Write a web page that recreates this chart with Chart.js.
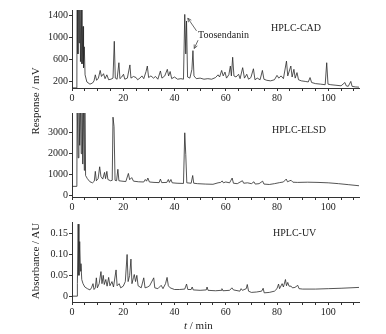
<!DOCTYPE html>
<html>
<head>
<meta charset="utf-8">
<script src="https://cdn.jsdelivr.net/npm/chart.js@4.4.0/dist/chart.umd.min.js"></script>
<style>
  body { margin: 0; background: #fff; }
  #wrap { position: relative; width: 386px; height: 334px; overflow: hidden; font-family: "Liberation Serif", serif; color: #222; }
  canvas { position: absolute; left: 0; }
  .lbl { position: absolute; font-size: 10px; line-height: 12px; white-space: nowrap; }
  .ytitle { position: absolute; font-size: 11px; white-space: nowrap; transform: translate(-50%, -50%) rotate(-90deg); }
</style>
</head>
<body>
<div id="wrap">
  <canvas id="cad" width="386" height="106" style="top:0px"></canvas>
  <canvas id="elsd" width="386" height="109" style="top:106px"></canvas>
  <canvas id="uv" width="386" height="119" style="top:215px"></canvas>
  <div class="lbl" style="left:271px; top:22px">HPLC-CAD</div>
  <div class="lbl" style="left:198px; top:29px">Toosendanin</div>
  <div class="lbl" style="left:272px; top:124px">HPLC-ELSD</div>
  <div class="lbl" style="left:273px; top:227px">HPLC-UV</div>
  <div class="ytitle" style="left:35px; top:101px">Response / mV</div>
  <div class="ytitle" style="left:35px; top:261px">Absorbance / AU</div>
  <div class="lbl" style="left:184px; top:319px; font-size:11px"><i>t</i> / min</div>
</div>
<script>
// retention time axis
const xLabels = [0, 20, 40, 60, 80, 100]
const xMinor = [0, 5, 10, 15, 20, 25, 30, 35, 40, 45, 50, 55, 60, 65, 70, 75, 80, 85, 90, 95, 100, 105, 110]

// HPLC-CAD trace (min, mV)
const cadT = [0, 1.9, 2.0, 2.3, 2.5, 2.8, 3.0, 3.3, 3.6, 3.9, 4.3, 4.5, 4.8, 5.1, 5.8, 7.0, 8.0, 8.6, 9.1, 9.6,
  10.3, 11.0, 11.5, 12.3, 12.9, 13.6, 14.3, 15.2, 16.0, 16.5, 16.9, 17.6, 18.3, 18.7, 19.4, 20.1, 20.6, 21.6, 22.6, 23.0,
  24.0, 25.0, 25.6, 26.5, 27.3, 28.0, 28.9, 29.4, 29.9, 30.8, 31.8, 32.6, 33.5, 34.5, 35.1, 36.2, 37.2, 37.7, 38.3, 38.9,
  40.0, 41.2, 42.5, 43.5, 44.0, 44.4, 44.7, 45.1, 46.0, 46.8, 47.2, 47.6, 48.5, 50.0, 51.5, 53.0, 54.5, 56.0, 57.0, 57.6,
  58.4, 59.0, 59.7, 60.3, 61.2, 61.8, 62.2, 62.7, 63.2, 64.0, 65.0, 65.6, 66.6, 67.3, 68.2, 68.9, 69.8, 70.8, 71.4, 72.3,
  73.4, 74.3, 74.9, 76.0, 77.5, 79.0, 80.0, 80.7, 81.6, 82.5, 83.7, 84.2, 85.4, 85.9, 86.6, 87.1, 87.8, 88.4, 89.5, 91.0,
  92.2, 92.9, 93.5, 95.0, 97.0, 98.8, 99.4, 99.9, 101.0, 103.0, 105.0, 106.5, 107.0, 107.8, 108.8, 109.3, 110.5, 112.0]
const cadV = [82, 82, 2500, 700, 3000, 900, 2800, 560, 1700, 520, 1200, 450, 830, 320, 190, 150, 170, 210, 320, 220,
  260, 400, 290, 340, 250, 320, 230, 240, 260, 930, 260, 240, 540, 250, 280, 330, 240, 260, 500, 260,
  290, 270, 230, 260, 300, 250, 380, 480, 270, 300, 260, 290, 240, 390, 260, 300, 420, 300, 380, 250,
  280, 240, 250, 240, 1420, 700, 1300, 280, 260, 420, 760, 300, 250, 260, 240, 250, 240, 270, 320, 280,
  400, 300, 370, 260, 320, 480, 300, 640, 300, 280, 330, 250, 450, 260, 330, 240, 270, 430, 230, 260,
  230, 400, 240, 220, 210, 230, 310, 260, 300, 250, 570, 300, 480, 280, 420, 260, 360, 230, 210, 200,
  190, 270, 180, 160, 150, 140, 540, 150, 140, 130, 120, 180, 120, 110, 200, 110, 100, 95]
const cadTicks = [200, 600, 1000, 1400]

// HPLC-ELSD trace (min, mV)
const elsdT = [0, 1.9, 2.0, 2.4, 2.7, 3.0, 3.3, 3.6, 3.9, 4.2, 4.5, 4.8, 5.0, 5.3, 6.0, 7.0, 8.0, 8.7, 9.1, 9.5,
  10.2, 10.8, 11.3, 12.0, 12.7, 13.1, 13.6, 14.0, 15.0, 15.7, 16.0, 16.4, 16.8, 17.4, 17.9, 18.3, 19.5, 21.0, 22.0, 22.5,
  23.3, 24.0, 26.0, 28.0, 28.6, 29.1, 29.6, 30.2, 32.0, 34.0, 34.5, 35.0, 37.0, 37.6, 38.0, 38.6, 39.1, 41.0, 43.5, 44.0,
  44.4, 44.8, 46.5, 47.1, 47.5, 49.0, 52.0, 55.0, 57.0, 58.0, 58.6, 59.1, 60.0, 61.5, 62.5, 63.0, 64.5, 66.5, 67.0, 68.5,
  70.0, 71.0, 71.5, 73.0, 74.4, 74.9, 77.0, 79.0, 81.0, 82.5, 83.6, 84.1, 85.0, 85.5, 86.2, 88.0, 92.0, 96.0, 100.0, 104.0,
  108.0, 112.0]
const elsdV = [430, 430, 4500, 1800, 4500, 2400, 4500, 2000, 4500, 1500, 4500, 1200, 4500, 950, 800, 650, 600, 680, 1150, 700,
  800, 1370, 900, 780, 1100, 800, 1150, 760, 700, 720, 3750, 3300, 720, 700, 1250, 700, 680, 660, 1050, 750,
  850, 680, 650, 640, 760, 680, 830, 640, 620, 610, 780, 610, 620, 760, 620, 760, 600, 580, 570, 3000,
  1950, 600, 580, 950, 580, 560, 540, 530, 600, 620, 690, 600, 640, 600, 830, 580, 560, 700, 580, 600,
  560, 650, 540, 560, 680, 540, 520, 560, 610, 640, 780, 650, 700, 720, 630, 620, 630, 620, 600, 560,
  510, 460]
const elsdTicks = [0, 1000, 2000, 3000]

// HPLC-UV trace (min, AU)
const uvT = [0, 2.0, 2.1, 2.4, 2.7, 3.0, 3.3, 3.5, 3.8, 4.3, 5.0, 6.0, 7.0, 7.6, 8.2, 8.6, 9.1, 9.5, 9.9, 10.6,
  11.3, 11.7, 12.2, 12.6, 13.2, 13.7, 14.3, 14.8, 15.6, 16.2, 17.2, 17.6, 18.4, 19.0, 20.0, 20.8, 21.5, 21.9, 22.5, 23.0,
  23.4, 24.0, 24.3, 24.8, 25.3, 25.8, 27.0, 28.0, 28.5, 29.5, 30.3, 31.9, 32.3, 33.5, 34.8, 35.5, 36.5, 37.1, 37.6, 38.3,
  40.0, 42.0, 44.0, 44.7, 45.2, 46.5, 46.9, 47.3, 50.0, 52.4, 52.7, 53.1, 56.0, 58.2, 58.5, 58.9, 61.5, 62.4, 63.0, 65.5,
  66.0, 66.5, 68.0, 68.4, 68.9, 70.0, 72.0, 74.0, 74.6, 75.0, 77.0, 79.0, 80.0, 80.6, 81.0, 82.0, 82.5, 83.3, 83.7, 84.2,
  84.7, 85.5, 86.0, 87.0, 88.1, 88.6, 90.0, 95.0, 100.0, 105.0, 112.0]
const uvV = [0, 0, 0.03, 0.173, 0.05, 0.131, 0.06, 0.078, 0.04, 0.03, 0.022, 0.018, 0.015, 0.02, 0.03, 0.016, 0.02, 0.044, 0.02, 0.03,
  0.059, 0.03, 0.05, 0.028, 0.04, 0.024, 0.045, 0.025, 0.035, 0.022, 0.063, 0.025, 0.03, 0.02, 0.024, 0.035, 0.1, 0.035, 0.05, 0.089,
  0.03, 0.045, 0.052, 0.035, 0.05, 0.025, 0.02, 0.044, 0.02, 0.022, 0.025, 0.044, 0.02, 0.018, 0.026, 0.018, 0.03, 0.045, 0.025, 0.02,
  0.016, 0.016, 0.017, 0.029, 0.016, 0.016, 0.022, 0.015, 0.014, 0.015, 0.022, 0.014, 0.013, 0.014, 0.018, 0.013, 0.014, 0.02, 0.015, 0.012,
  0.018, 0.014, 0.018, 0.028, 0.012, 0.009, 0.01, 0.012, 0.019, 0.008, 0.009, 0.012, 0.018, 0.029, 0.018, 0.03, 0.022, 0.04, 0.025, 0.033,
  0.024, 0.024, 0.02, 0.021, 0.026, 0.018, 0.017, 0.017, 0.018, 0.019, 0.021]
const uvTicks = [0, 0.05, 0.10, 0.15]
const uvTickText = ['0', '0.05', '0.10', '0.15']

Chart.defaults.font.family = '"Liberation Serif", serif'
Chart.defaults.font.size = 10
Chart.defaults.color = '#222'

// arrows from "Toosendanin" to its two peaks
const arrowPlugin = {
  id: 'arrows',
  afterDatasetsDraw(chart) {
    const xs = chart.scales.x, ys = chart.scales.y, ctx = chart.ctx
    const arrows = [[48.6, 1120, 45.2, 1350], [49.2, 950, 47.7, 800]]
    ctx.save()
    ctx.strokeStyle = '#444'
    ctx.lineWidth = 0.8
    arrows.forEach(a => {
      const x0 = xs.getPixelForValue(a[0]), y0 = ys.getPixelForValue(a[1])
      const x1 = xs.getPixelForValue(a[2]), y1 = ys.getPixelForValue(a[3])
      const ang = Math.atan2(y1 - y0, x1 - x0)
      ctx.beginPath()
      ctx.moveTo(x0, y0); ctx.lineTo(x1, y1)
      ctx.moveTo(x1 - 4 * Math.cos(ang - 0.45), y1 - 4 * Math.sin(ang - 0.45))
      ctx.lineTo(x1, y1)
      ctx.lineTo(x1 - 4 * Math.cos(ang + 0.45), y1 - 4 * Math.sin(ang + 0.45))
      ctx.stroke()
    })
    ctx.restore()
  }
}

function makeChart(id, t, v, yMin, yMax, yTicks, yText, padTop, xHeight, plugins) {
  const pts = t.map((x, i) => ({ x: x, y: v[i] }))
  return new Chart(document.getElementById(id), {
    type: 'line',
    data: { datasets: [{ data: pts, borderColor: '#2a2a2a', borderWidth: 0.8, pointRadius: 0, tension: 0, fill: false }] },
    options: {
      responsive: false,
      animation: false,
      parsing: false,
      layout: { padding: { top: padTop, right: 27, left: 0, bottom: 0 } },
      plugins: { legend: { display: false }, tooltip: { enabled: false } },
      scales: {
        x: {
          type: 'linear', min: 0, max: 112,
          afterBuildTicks: s => { s.ticks = xMinor.map(val => ({ value: val })) },
          afterFit: s => { s.height = xHeight },
          ticks: { autoSkip: false, maxRotation: 0, padding: 1, callback: val => xLabels.includes(val) ? String(val) : '' },
          grid: { drawOnChartArea: false, tickLength: 3, color: '#333' },
          border: { color: '#333', width: 1 }
        },
        y: {
          type: 'linear', min: yMin, max: yMax,
          afterBuildTicks: s => { s.ticks = yTicks.map(val => ({ value: val })) },
          afterFit: s => { s.width = 72 },
          ticks: { padding: 1, callback: (val) => yText ? yText[yTicks.indexOf(val)] : String(val) },
          grid: { drawOnChartArea: false, tickLength: 3, color: '#333' },
          border: { color: '#333', width: 1 }
        }
      }
    },
    plugins: plugins || []
  })
}

makeChart('cad', cadT, cadV, 80, 1500, cadTicks, null, 10, 18, [arrowPlugin])
makeChart('elsd', elsdT, elsdV, -80, 3950, elsdTicks, null, 7, 18)
makeChart('uv', uvT, uvV, -0.014, 0.178, uvTicks, uvTickText, 3, 32)
</script>
</body>
</html>
